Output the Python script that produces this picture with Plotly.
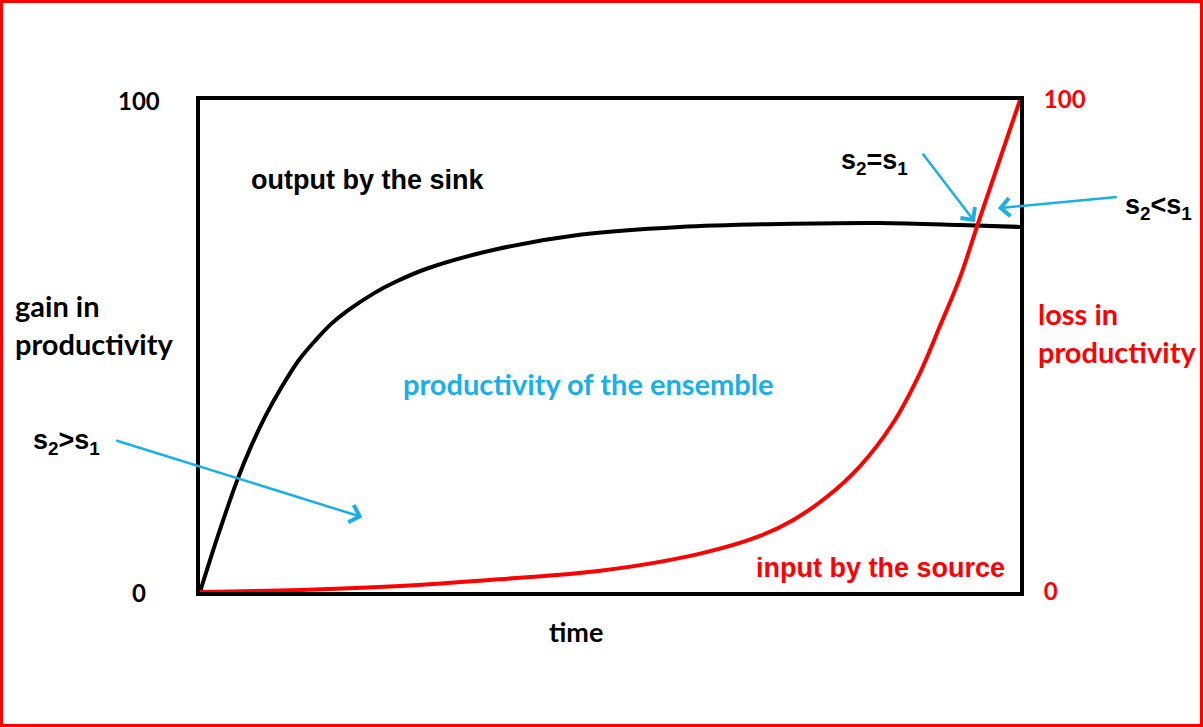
import plotly.graph_objects as go

# --- data ---
sink_time = [0, 2.2, 4.6, 6.2, 7.9, 9.9, 12.0, 14.0, 16.0, 18.0, 21.3, 23.8, 27.8,
             36.0, 46.3, 58.5, 70.7, 82.9, 92.7, 100]
sink_out = [0, 11.5, 23.0, 29.5, 35.5, 41.5, 47.0, 51.0, 54.5, 57.2, 60.8, 63.0, 65.8,
            69.6, 72.6, 74.2, 74.8, 75.0, 74.6, 74.2]

source_time = [0, 12.2, 24.4, 36.6, 48.8, 61.0, 68.3, 72.3, 76.5, 80.5, 84.5, 87.8, 90.2, 92.7, 94.9, 100]
source_in = [0, 0.4, 1.2, 2.6, 4.3, 7.8, 11.4, 14.6, 19.4, 25.6, 34.3, 44.5, 53.9, 64.0, 75.0, 100]

tick_vals = [0, 100]
tick_text = ["0", "100"]

BLACK = "#000000"
RED = "#ff0000"
CYAN = "#1aafe6"
FONT_B = "Lato"
FONT_A = "Liberation Sans"

fig = go.Figure()
fig.add_trace(go.Scatter(x=sink_time, y=sink_out, mode="lines",
                         line=dict(color=BLACK, width=4, shape="spline", smoothing=1.0),
                         showlegend=False, hoverinfo="skip"))
fig.add_trace(go.Scatter(x=source_time, y=source_in, mode="lines", yaxis="y2",
                         line=dict(color=RED, width=4, shape="spline", smoothing=1.0),
                         showlegend=False, hoverinfo="skip"))

W, H = 1203, 727
L, R, T, B = 200, 183, 100, 135
pw, ph = W - L - R, H - T - B

def px(xpix):
    return (xpix - L) / pw

def py(ypix):
    return (H - B - ypix) / ph

annotations = []
# left tick labels (centered)
for v, t in zip(tick_vals, tick_text):
    annotations.append(dict(x=px(139), xref="paper", y=v, yref="y", text="<b>%s</b>" % t, showarrow=False,
                            xanchor="center", yanchor="middle",
                            font=dict(family=FONT_B, size=24, color=BLACK)))

def txt(x, y, text, color, size, family, xanchor="left", align="left"):
    annotations.append(dict(x=px(x), y=py(y), xref="paper", yref="paper", text=text, showarrow=False,
                            xanchor=xanchor, yanchor="middle", align=align,
                            font=dict(family=family, size=size, color=color)))

txt(13, 324, "<b>gain in<br>productivity</b>", BLACK, 29, FONT_B)
txt(1036, 332, "<b>loss in<br>productivity</b>", RED, 29, FONT_B)
txt(249, 180, "<b>output by the sink</b>", BLACK, 27, FONT_A)
txt(588, 383, "<b>productivity of the ensemble</b>", CYAN, 29, FONT_B, xanchor="center")
txt(754, 568, "<b>input by the source</b>", RED, 27, FONT_A)
txt(576, 631, "<b>time</b>", BLACK, 27, FONT_B, xanchor="center")
txt(31, 442, "<b>s<sub>2</sub>&gt;s<sub>1</sub></b>", BLACK, 27, FONT_A)
txt(839, 162, "<b>s<sub>2</sub>=s<sub>1</sub></b>", BLACK, 27, FONT_A)
txt(1123, 207, "<b>s<sub>2</sub>&lt;s<sub>1</sub></b>", BLACK, 27, FONT_A)

# arrows (tail -> tip in data coordinates)
arrows = [((-10.4, 30.9), (19.8, 15.2)), ((88.0, 89.4), (94.5, 75.2)), ((112.0, 80.3), (97.3, 78.0))]
for (tx, ty), (hx, hy) in arrows:
    annotations.append(dict(x=hx, y=hy, xref="x", yref="y", ax=tx, ay=ty, axref="x", ayref="y",
                            text="", showarrow=True, arrowhead=4, arrowsize=1.4, arrowwidth=2.5,
                            arrowcolor=CYAN))

shapes = [dict(type="rect", xref="paper", yref="paper",
               x0=px(1.5), x1=px(1201.5), y0=py(725.5), y1=py(1.5),
               line=dict(color=RED, width=3), layer="below")]

fig.update_layout(
    width=W, height=H,
    margin=dict(l=L, r=R, t=T, b=B),
    paper_bgcolor="white", plot_bgcolor="white",
    xaxis=dict(range=[0, 100], showgrid=False, zeroline=False, showticklabels=False, ticks="",
               showline=True, linecolor=BLACK, linewidth=4, mirror=True),
    yaxis=dict(range=[0, 100], showgrid=False, zeroline=False, showticklabels=False, ticks="",
               showline=True, linecolor=BLACK, linewidth=4, mirror=True),
    yaxis2=dict(range=[0, 100], overlaying="y", side="right", showgrid=False, zeroline=False,
                tickvals=tick_vals, ticktext=["<b>%s</b>" % t for t in tick_text],
                ticks="outside", ticklen=18,
                tickcolor="rgba(0,0,0,0)", showline=False,
                tickfont=dict(family=FONT_B, size=24, color=RED)),
    annotations=annotations,
    shapes=shapes,
)

fig.write_html("out.html", config={"displayModeBar": False},
               post_script="document.body.style.margin='0';document.body.style.overflow='hidden';")
